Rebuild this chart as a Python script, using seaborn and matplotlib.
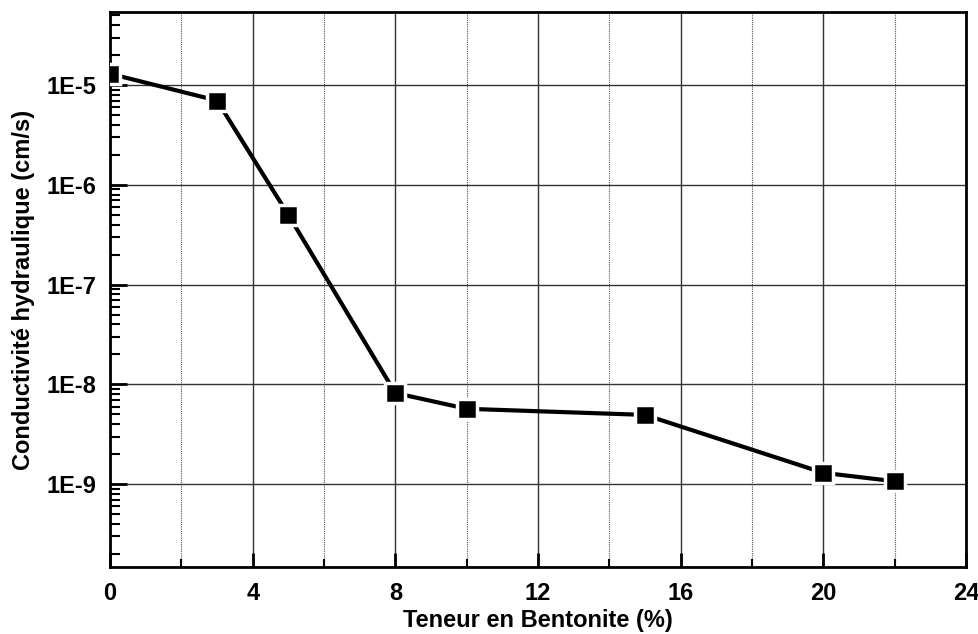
import numpy as np
import pandas as pd
import matplotlib
matplotlib.use("Agg")
import matplotlib.pyplot as plt
import seaborn as sns
from matplotlib.ticker import FixedLocator, LogLocator, FuncFormatter, NullFormatter

bentonite = [0, 3, 5, 8, 10, 15, 20, 22]
conductivity = [1.3e-5, 7.0e-6, 5.0e-7, 8.2e-9, 5.7e-9, 4.95e-9, 1.3e-9, 1.07e-9]
x_ticks = [0, 4, 8, 12, 16, 20, 24]
y_ticks = [1e-9, 1e-8, 1e-7, 1e-6, 1e-5]

sns.set_style("ticks")
plt.rcParams['font.family'] = ['Liberation Sans', 'DejaVu Sans']
plt.rcParams['font.weight'] = 'bold'
plt.rcParams['text.color'] = 'black'
plt.rcParams['axes.labelcolor'] = 'black'
plt.rcParams['xtick.color'] = 'black'
plt.rcParams['ytick.color'] = 'black'

df = pd.DataFrame({"x": bentonite, "y": conductivity})

fig = plt.figure(figsize=(9.79, 6.34), dpi=100)
ax = fig.add_axes([0.1124, 0.1057, 0.8743, 0.8753])

sns.lineplot(data=df, x="x", y="y", ax=ax, color="black", linewidth=3,
             marker="s", markersize=15, markerfacecolor="black",
             markeredgecolor="white", markeredgewidth=2.5, zorder=5)

ax.set_yscale("log")
ax.set_xlim(0, 24)
ax.set_ylim(1.48e-10, 5.4e-5)

ax.xaxis.set_major_locator(FixedLocator(x_ticks))
ax.xaxis.set_minor_locator(FixedLocator([2, 6, 10, 14, 18, 22]))
ax.yaxis.set_major_locator(FixedLocator(y_ticks))
ax.yaxis.set_minor_locator(LogLocator(base=10, subs=np.arange(2, 10), numticks=20))
ax.yaxis.set_major_formatter(FuncFormatter(lambda v, p: "1E%d" % int(round(np.log10(v)))))
ax.yaxis.set_minor_formatter(NullFormatter())

ax.grid(True, which="major", axis="both", color="#333333", linewidth=1.0, linestyle="-")
ax.grid(True, which="minor", axis="x", color="#555555", linewidth=0.8, linestyle=(0, (1, 1)))
ax.grid(False, which="minor", axis="y")
ax.set_axisbelow(True)

ax.tick_params(axis="both", which="major", direction="in", length=12, width=2,
               labelsize=17, colors="black", labelcolor="black")
ax.tick_params(axis="y", which="major", pad=10)
ax.tick_params(axis="x", which="major", pad=11, length=10)
ax.tick_params(axis="both", which="minor", direction="in", length=7, width=1.5, colors="black")
ax.tick_params(axis="x", which="minor", length=6)
for lab in ax.get_xticklabels() + ax.get_yticklabels():
    lab.set_fontweight("bold")

for s in ax.spines.values():
    s.set_linewidth(2)
    s.set_color("black")

ax.set_xlabel("Teneur en Bentonite (%)", fontsize=17, fontweight="bold", labelpad=3, color="black")
ax.set_ylabel("Conductivité hydraulique (cm/s)", fontsize=17, fontweight="bold", labelpad=8, color="black")

fig.savefig("out.png", dpi=100)
